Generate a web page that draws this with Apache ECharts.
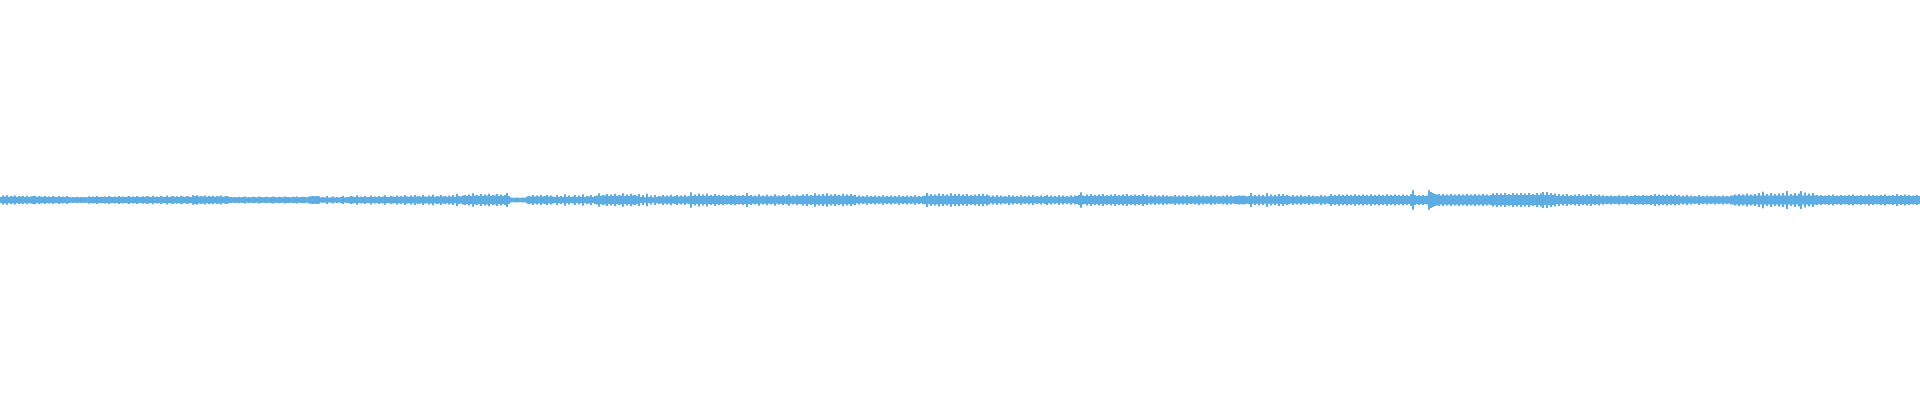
<!DOCTYPE html>
<html>
<head>
<meta charset="utf-8">
<script src="https://cdn.jsdelivr.net/npm/echarts@6/dist/echarts.min.js"></script>
<style>html,body{margin:0;padding:0;background:#fff}#c{width:1920px;height:400px}</style>
</head>
<body>
<div id="c"></div>
<script>
// Waveform half-amplitudes (one value per 2 samples-columns), in six segments
const seg1 = [3,4.5,3.5,4.7,3,4,3.5,4.5,3,4, 3.5,4,3,4.3,3,3.5,4,4.3,3,4, 3.5,3,4,3,3.5,3,4,3.3,3,4, 3,3.5,3,4,3,2.8,3,2.8,3.3,2.8,
  3,2.8,3,2.8,3.7,3,3.5,3,4,3, 3.3,3,3.5,3,4,3.3,3,3.5,3,4, 3,3.5,3,3.3,4,3,3.5,3,4,3.3, 3,3.7,3,4,3.5,3,4.3,3,3.5,3,
  4,3.3,3,4.5,3,3.5,4,3,3.7,3, 4.3,3.5,3,4,3.5,3,4.7,4,4.7,3.5, 4,3.5,4.5,3.3,4,3.5,4.3,3,4,3.5, 4.5,3.3,3.7,4,3.3,3,2.8,3,2.8,3.3,
  2.8,3,3.5,2.8,3,2.8,3.3,3,2.8,3.5, 3,2.8,3,3.3,2.8,3,3.5,3,2.8,3.3, 3,2.8,3.5,3,3,2.8,3.3,3,3.5,2.8, 3,3.3,3,2.8,3.5,3.7,4,3.7,4,3.7];
const seg2 = [2.5,3,2.5,4,2.5,2.8,3.5,2.5,3,2.5, 3,4,2.5,3,3,4,3.5,3,4.7,3, 3.5,3,4,3,3,4.5,3,3.5,3,4, 3,3.5,4.7,3,3,4,3.5,3,4.5,3.3,
  4,3.3,5,3.5,3.3,4.5,3.3,5,3.5,4, 3.3,5,3.5,3.3,4.5,3.5,5.3,3.3,4,3.5, 5,3.5,4,3.3,4.5,3.5,5,3.3,6.3,4, 3.5,4.5,5,4,5.5,4,6.7,4.5,5,4,
  6,4,5.5,4.5,6.3,4,5,4.5,6,4, 5.5,4,5,7,4,2.5,2.3,2.3,2.5,2.3, 2.3,2.5,2.3,3.5,4,3.5,5,3.5,4.5,3.5, 5,3.5,4,5,3.5,4.5,3.5,3,5,3,
  4,3,5.7,3,4.5,3,3.5,5,3,4.5, 3,5.7,3,4,3.5,5,3,4,4.5,6.7, 4,5,4.5,6,4,5.5,4,6.3,4,5, 4.5,6.7,4,5.5,4,6.3,4.5,5,4,6];
const seg3 = [3,5,2.8,6.3,3,4.5,2.8,5,3,4, 3.5,5,3.5,4.5,3.5,5.3,3.5,4,5,3.5, 4.5,3.5,5,3.5,4,7.7,4,5.5,4,6.5, 4,5.5,4,6.5,4,5,4,6,4,5,
  4,5.3,4,4.5,4,5,4,5.3,4,4.5, 4,5,4,7,4,5,3.7,4.5,3.7,5.7, 3.7,4.5,3.7,5.3,3.7,4.5,3.7,5.7,3.7,4.5, 3.7,5,3.7,4.5,5.7,3.7,4.5,3.7,5.3,4,
  4.3,5.5,4.3,6,4.3,5,4.3,6.7,4.3,5.5, 4.3,6,4.3,6.7,4.3,5.5,4.3,6,4.3,5, 4.3,6.3,4.3,5.5,4.3,6,4.3,5,3.3,4.5, 3.3,4,3.3,4.7,3.3,4,3.3,4.5,3.3,4,
  3.3,4.7,3.3,4,3.3,4.5,3.3,4,3.3,4.7, 3.3,4,3.3,4.5,3.3,4,3.3,4.7,3.3,4, 3.3,4.3,4.3,7,4.3,6,4.3,5.5,4.3,6.5, 4.3,6,4.3,5.5,4.3,6.7,4.3,6,4.3,6.3];
const seg4 = [4,5.5,4,6,4,5,4,5.5,4,6, 4,6.3,4,5.5,4.5,3.3,4.5,3.3,5,3.3, 4.5,3.3,4,3.3,5,3.3,4.5,3.3,4,3.3, 4.7,3.3,4,3.3,4.5,3.3,5,3.3,4,3.3,
  4.5,3.3,4,5,3.3,4.5,3.3,4,3.3,5, 3.3,4.5,3.3,4,3.3,4.7,3.3,4.5,4,5, 7.7,4.5,4,5.5,4,6,4,5,4,5.5, 4,6,4,5,4,5.5,4,6,4,5,
  4,5.5,4,6,4,5,4,5.5,4,5, 4,6,4,5,3.5,4.5,3.5,5,3.5,4.5, 3.5,5,3.5,4.5,3.5,4,3.5,5,3.5,4.5, 3.5,4.5,3.5,5,3.5,4,3.5,4.5,3.5,5,
  3.5,4.5,3.5,4,3.5,5,3.5,4.5,3.5,4, 3.5,4.5,3.5,5,3.5,4.5,3.5,4,4.3,4.5, 4.3,4.5,4.3,3.7,4,7,3.7,5,3.7,5.5, 3.7,5,3.7,7,3.7,5.5,3.7,5,3.7,6];
const seg5 = [4,6,4,5,4,3.5,5,3.5,4.5,3.5, 5,3.5,4,3.5,5,3.5,4.5,3.5,4,3.5, 5,3.5,4.5,3.5,4,6,4,5,4,5.7, 4,5,4,5.5,4,5,4,5.7,4,5,
  4,5.5,4,5,4,5.7,4,5,4,5.5, 4,5,4,5.7,4,5,4,5.5,4,5, 4,5.5,4,5,4,6,9.7,5,4,5, 4,5,4,4.5,9.7,8,7,6,5.5,6,
  4.5,6,4.5,5.5,4.5,6,4.5,5.5,4.5,6, 4.5,5.5,4.5,6,4.5,5.5,4.5,6,4.5,5.5, 4.5,6,4.5,5.5,4.5,5,6.5,5,7,5, 6.5,5,7,5,6,5,7,5,6.5,5,
  7,5,6.5,5,7,5,6,5,7,5, 6.5,8,5,8,5,7,5,6.5,4,6, 4,5.5,4,6,4,5,4,5.5,4,6, 4,5,4,5.5,4,6,4,5,4,5.5];
const seg6 = [3.7,4.7,3.7,4.3,3.7,4.5,3.7,4,3.7,4.7, 3.7,4.3,3.7,4.7,3.7,4,4,5,4,4.5, 4,5,4,4.5,4,5,4,6,4,5.5, 4,5,4,5.5,4,5,4,5.5,4,5,
  3.5,4.5,3.5,5,3.5,4.5,3.5,4,3.5,5, 3.5,4,3.5,4.5,3.5,4,3.5,4.5,3.5,4, 3.5,4.5,3.5,4,3.5,4.5,4.5,5.5,4.5,6, 4.5,5.5,4.5,6.5,4.5,5.5,4.5,6,4.5,7,
  4.5,8.3,4.5,6,4.5,7,4.5,6,4.5,6.5, 4.5,7,4.5,9,4.5,6,4.5,7,4.5,6.5, 9,4.5,7.5,4.5,6.5,4.5,7,4.5,5,4, 5,4,4.5,4,5,4,5.5,4,4.5,4,
  5,4,4.5,4,5,4,5.5,4,4.5,4, 5,4,4.5,4,5.5,4,5,4,4.5,4, 5,4,5.5,4,4.5,4,5,4,6,4, 5,4,5.5,4,5,4,4.5,4,5,4];

const amplitude = [].concat(seg1, seg2, seg3, seg4, seg5, seg6);
const samples = amplitude.map((_, i) => i);
const upper = amplitude;
const lower = amplitude.map(v => -v);

const chart = echarts.init(document.getElementById('c'), null, {renderer: 'canvas'});
chart.setOption({
  animation: false,
  backgroundColor: '#ffffff',
  grid: {left: 0, right: 0, top: 0, bottom: 0},
  xAxis: {type: 'category', data: samples, show: false, boundaryGap: true},
  yAxis: {type: 'value', min: -200, max: 200, show: false},
  series: [
    {type: 'bar', data: upper, barGap: '-100%', barCategoryGap: 0, itemStyle: {color: '#5dace2'}, silent: true},
    {type: 'bar', data: lower, barGap: '-100%', barCategoryGap: 0, itemStyle: {color: '#5dace2'}, silent: true}
  ]
});
</script>
</body>
</html>
